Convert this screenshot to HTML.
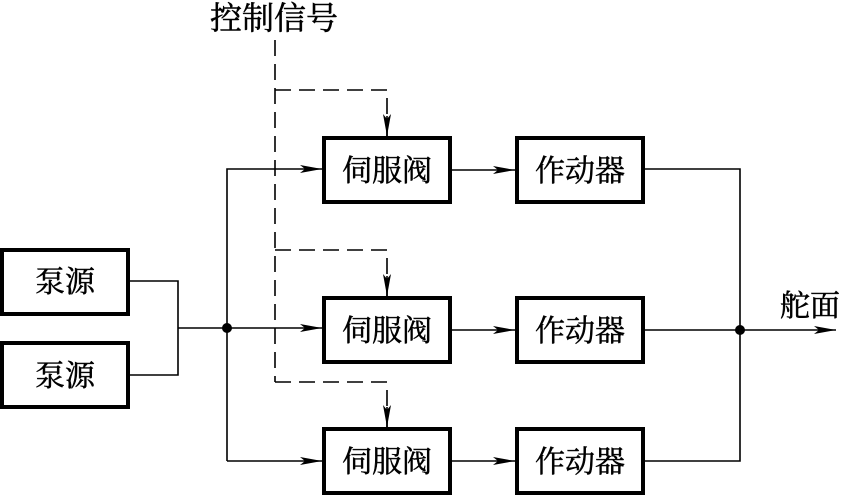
<!DOCTYPE html>
<html><head><meta charset="utf-8"><style>
html,body{margin:0;padding:0;background:#fff;}
svg{display:block;}
text{font-family:"Liberation Serif","Noto Serif CJK SC",serif;font-size:30px;fill:#000;stroke:#000;stroke-width:0.5;}
</style></head><body>
<svg width="843" height="496" viewBox="0 0 843 496" xmlns="http://www.w3.org/2000/svg">
<defs>
<marker id="a" markerWidth="22" markerHeight="10" refX="22" refY="5" orient="auto" markerUnits="userSpaceOnUse">
<path d="M0,1 L22,5 L0,9 L5,5 Z" fill="#000"/></marker>
</defs>
<g fill="none" stroke="#000" stroke-width="4">
<rect x="2" y="250" width="126" height="64"/>
<rect x="2" y="343" width="126" height="64"/>
<rect x="324" y="138" width="126" height="64"/>
<rect x="324" y="298" width="126" height="64"/>
<rect x="324" y="429" width="126" height="64"/>
<rect x="517" y="138" width="126" height="64"/>
<rect x="517" y="298" width="126" height="64"/>
<rect x="517" y="429" width="126" height="64"/>
</g>
<g fill="none" stroke="#000" stroke-width="1.6">
<path d="M130,281 H178 V375 H130"/>
<path d="M178,328 H322" marker-end="url(#a)"/>
<path d="M227,461 V169 H322" marker-end="url(#a)"/>
<path d="M227,461 H322" marker-end="url(#a)"/>
<path d="M452,170 H515" marker-end="url(#a)"/>
<path d="M452,330 H515" marker-end="url(#a)"/>
<path d="M452,461 H515" marker-end="url(#a)"/>
<path d="M645,169 H740 V461 H645"/>
<path d="M645,330 H836" marker-end="url(#a)"/>
</g>
<g fill="none" stroke="#000" stroke-width="1.6" stroke-dasharray="16,8">
<path d="M275,40 V382"/>
<path d="M275,90 H387 V136"/>
<path d="M275,250 H387 V296"/>
<path d="M275,382 H387 V427"/>
</g>
<g stroke="#000" stroke-width="1.6">
<path d="M387,116 V136" marker-end="url(#a)"/>
<path d="M387,276 V296" marker-end="url(#a)"/>
<path d="M387,407 V427" marker-end="url(#a)"/>
</g>
<circle cx="227" cy="328" r="5" fill="#000"/>
<circle cx="740" cy="330" r="5" fill="#000"/>
<text x="35" y="292">泵源</text>
<text x="35" y="386">泵源</text>
<text x="342" y="181">伺服阀</text>
<text x="342" y="341">伺服阀</text>
<text x="342" y="472">伺服阀</text>
<text x="535" y="181">作动器</text>
<text x="535" y="341">作动器</text>
<text x="535" y="472">作动器</text>
<text x="210" y="29" style="font-size:32px">控制信号</text>
<text x="780" y="316">舵面</text>
</svg>
</body></html>
